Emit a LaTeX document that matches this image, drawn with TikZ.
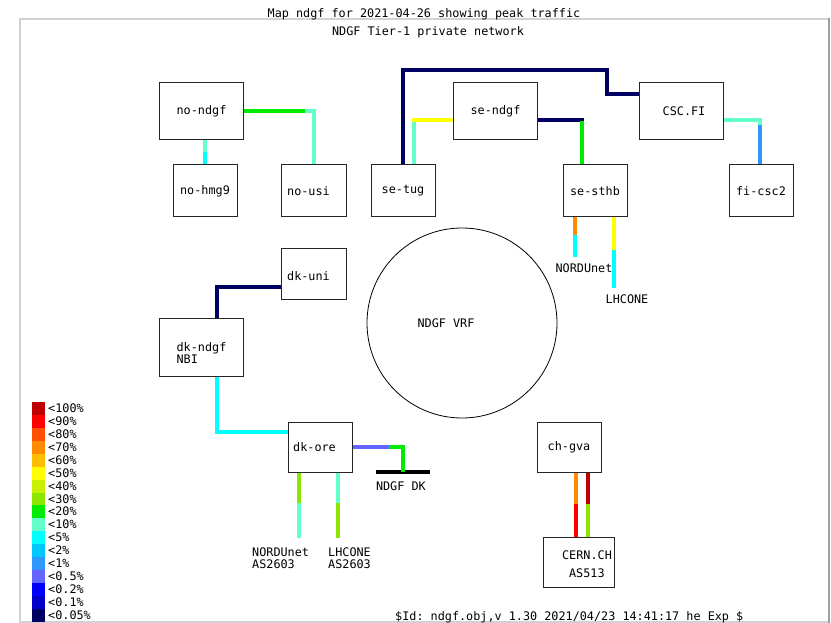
\documentclass[tikz,border=0pt]{standalone}
\usepackage{fontspec}
\usetikzlibrary{positioning}
\newfontfamily\mapfont{DejaVu Sans Mono}[Scale=1.18]
\frenchspacing
\definecolor{c100}{RGB}{190,0,0}   \definecolor{c90}{RGB}{255,0,0}
\definecolor{c80}{RGB}{255,80,0}   \definecolor{c70}{RGB}{255,140,0}
\definecolor{c60}{RGB}{255,190,0}  \definecolor{c50}{RGB}{255,255,0}
\definecolor{c40}{RGB}{200,240,0}  \definecolor{c30}{RGB}{140,230,0}
\definecolor{c20}{RGB}{0,235,0}    \definecolor{c10}{RGB}{100,255,200}
\definecolor{c5}{RGB}{0,255,255}   \definecolor{c2}{RGB}{0,200,255}
\definecolor{c1}{RGB}{50,150,255}  \definecolor{c05}{RGB}{100,100,255}
\definecolor{c02}{RGB}{0,0,255}    \definecolor{c01}{RGB}{0,0,200}
\definecolor{c005}{RGB}{0,0,100}
\begin{document}
\begin{tikzpicture}[x=1pt, y=-1pt, every node/.append style={font=\mapfont, inner sep=0pt},
  box/.style={draw=black!85, line width=1pt}, big/.style={box, minimum width=84, minimum height=57},
  sml/.style={box, minimum width=64, minimum height=52}, lnk/.style={line width=4pt}]
  \useasboundingbox (0,0) rectangle (831,623);
  \draw[gray!35, line width=2pt] (829,622) -- (20,622) -- (20,19) -- (829,19); \draw[gray!75, line width=2pt] (829,18) -- (829,623);
  \node (title) at (424,14.5) {Map ndgf for 2021-04-26 showing peak traffic};
  \node (subtitle) at (428,32) {NDGF Tier-1 private network};

  \node[big] (nondgf) at (201.5,111.5) {no-ndgf};
  \node[sml] (nohmg9) at (205,191) {no-hmg9};
  \node[sml, minimum width=65, label={[xshift=-5]center:no-usi}] (nousi) at (313.5,191) {};
  \node[big] (sendgf) at (495.5,111.5) {se-ndgf};
  \node[sml] (setug) at (403,191) {se-tug};
  \node[sml] (sesthb) at (595,191) {se-sthb};
  \node[big, label={[xshift=3]center:CSC.FI}] (cscfi) at (681,111.5) {};
  \node[sml] (ficsc2) at (761,191) {fi-csc2};
  \node[box, minimum width=65, minimum height=50, label={[xshift=-5, yshift=-2]center:dk-uni}] (dkuni) at (313.5,274) {};
  \node[big, minimum height=58, label={[yshift=-6, align=left]center:{dk-ndgf\\NBI}}] (dkndgf) at (201.5,347) {};
  \node[box, minimum width=64, minimum height=50, label={[xshift=-5.5]center:dk-ore}] (dkore) at (320,447) {};
  \node[box, minimum width=64, minimum height=50] (chgva) at (569,447) {ch-gva};
  \node[box, minimum width=71, minimum height=50, label={[xshift=8.5, yshift=-2, align=left]center:{CERN.CH\\[6pt]\hspace*{7pt}AS513}}] (cernch) at (578.5,562) {};
  \node[draw, circle, line width=0.8pt, minimum size=190, label={[xshift=-16]center:NDGF VRF}] (vrf) at (462,323) {};
  \node[fill, minimum width=54, minimum height=4] (ndgfdk) at (403,472) {};
  \node[below right=7pt and 0pt of ndgfdk.south west] (ndgfdkt) {NDGF DK};

  \coordinate (m1) at (205,152.5); \draw[lnk, c10] (nohmg9.north |- nondgf.south) -- (m1); \draw[lnk, c5] (m1) -- (nohmg9.north);
  \coordinate (m2) at (305,111.5); \draw[lnk, c20] (nondgf.east) -- (m2); \draw[lnk, c10] (m2) -| (nousi.north);
  \draw[lnk, c005] (setug.north) |- (607,70) |- ([yshift=17.5]cscfi.west);
  \coordinate (m4) at (414,122.5); \draw[lnk, c50] ([yshift=-8.5]sendgf.west) -| (m4); \draw[lnk, c10] (m4) -- ([xshift=11]setug.north);
  \coordinate (m5) at (582,121); \draw[lnk, c005] ([yshift=-8.5]sendgf.east) -| (m5); \draw[lnk, c20] (m5) -- ([xshift=-13]sesthb.north);
  \coordinate (m6) at (760,125); \draw[lnk, c10] ([yshift=-8.5]cscfi.east) -| (m6); \draw[lnk, c1] (m6) -- ([xshift=-1]ficsc2.north);
  \coordinate (nordu) at (575,257); \coordinate (m7) at (575,235);
  \draw[lnk, c70] ([xshift=-20]sesthb.south) -- (m7); \draw[lnk, c5] (m7) -- (nordu); \node (nordut) at (584,268) {NORDUnet};
  \coordinate (lhc) at (614,288); \coordinate (m8) at (614,250);
  \draw[lnk, c50] ([xshift=19]sesthb.south) -- (m8); \draw[lnk, c5] (m8) -- (lhc); \node (lhct) at (627,299) {LHCONE};

  \draw[lnk, c005] ([xshift=15.5]dkndgf.north) |- ([yshift=-13]dkuni.west);
  \draw[lnk, c5] ([xshift=15.5]dkndgf.south) |- ([yshift=15]dkore.west);
  \coordinate (m11) at (389,447); \draw[lnk, c05] (dkore.east) -- (m11); \draw[lnk, c20] (m11) -| (ndgfdk.center);
  \coordinate (nordu2) at (299,538); \coordinate (m12) at (299,503);
  \draw[lnk, c30] ([xshift=-21]dkore.south) -- (m12); \draw[lnk, c10] (m12) -- (nordu2);
  \node[anchor=west, align=left] (nordu2t) at (252,558) {NORDUnet\\AS2603};
  \coordinate (lhc2) at (338,538); \coordinate (m13) at (338,503);
  \draw[lnk, c10] ([xshift=18]dkore.south) -- (m13); \draw[lnk, c30] (m13) -- (lhc2);
  \node[anchor=west, align=left] (lhc2t) at (328,558) {LHCONE\\AS2603};
  \coordinate (m14) at (576,504); \draw[lnk, c70] ([xshift=7]chgva.south) -- (m14); \draw[lnk, c90] (m14) -- ([xshift=-2.5]cernch.north);
  \coordinate (m15) at (588,504); \draw[lnk, c100] ([xshift=19]chgva.south) -- (m15); \draw[lnk, c30] (m15) -- ([xshift=9.5]cernch.north);

  \foreach \c/\t [count=\i from 0] in {c100/100, c90/90, c80/80, c70/70, c60/60, c50/50, c40/40, c30/30, c20/20,
      c10/10, c5/5, c2/2, c1/1, c05/0.5, c02/0.2, c01/0.1, c005/0.05} {
    \node[fill=\c, minimum width=13, minimum height=13, anchor=north west] (key\i) at (32,402+12.9*\i) {};
    \node[anchor=west] (keyt\i) at (48,408.5+12.9*\i) {<\t\%};
  }
  \node[anchor=west] (rcsid) at (395,617) {\$Id: ndgf.obj,v 1.30 2021/04/23 14:41:17 he Exp \$};
\end{tikzpicture}
\end{document}
